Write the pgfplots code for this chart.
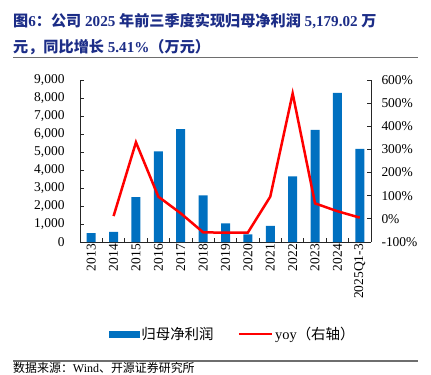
\documentclass[border=0pt]{standalone}
\usepackage{fontspec}
\setmainfont{Liberation Serif}
\newfontfamily\cjk{Noto Sans CJK SC}
\usepackage{pgfplots}
\pgfplotsset{compat=1.18}
\definecolor{barblue}{HTML}{0070C0}
\definecolor{titleblue}{RGB}{28,45,135}
\definecolor{rulegray}{RGB}{110,110,110}
\begin{document}
\begin{tikzpicture}[x=1bp,y=1bp]
\useasboundingbox (0,0) rectangle (431,-375);
\node[anchor=base west, inner sep=0, text=titleblue, font=\bfseries\fontsize{15.2}{16}\selectfont] at (13,-26)
 {{\cjk 图}6{\cjk ：公司} 2025 {\cjk 年前三季度实现归母净利润} 5,179.02 {\cjk 万}};
\node[anchor=base west, inner sep=0, text=titleblue, font=\bfseries\fontsize{15.2}{16}\selectfont] at (13,-52)
 {{\cjk 元，同比增长} 5.41\%{\cjk （万元）}};
\draw[rulegray, line width=1.2bp] (13,-57.5) -- (418,-57.5);
\draw[rulegray, line width=1.2bp] (13,-361) -- (418,-361);
\node[anchor=base west, inner sep=0, font=\fontsize{12}{13}\selectfont] at (13,-372)
 {{\cjk 数据来源：}Wind{\cjk 、开源证券研究所}};

\begin{axis}[
  at={(80bp,-242bp)}, anchor=south west,
  scale only axis, width=291bp, height=162bp,
  xmin=-0.5, xmax=12.5, ymin=0, ymax=9000,
  axis x line*=bottom, axis y line*=left,
  axis line style={black!85, line width=0.8bp},
  xtick={0.5,1.5,...,11.5}, xticklabels={},
  extra x ticks={0,1,...,12},
  extra x tick labels={2013,2014,2015,2016,2017,2018,2019,2020,2021,2022,2023,2024,2025Q1-3},
  extra x tick style={tick style={draw=none}},
  xticklabel style={rotate=90, anchor=east, font=\fontsize{13.5}{14}\selectfont, inner sep=2bp},
  ytick={0,1000,...,9000},
  yticklabel style={font=\fontsize{13.5}{14}\selectfont, xshift=-12bp},
  /pgf/number format/assume math mode=true,
  /pgf/number format/1000 sep={,},
  tick align=inside, major tick length=4bp,
  tick style={black!85, line width=0.8bp},
  clip=false,
]
\addplot[ybar, bar width=9bp, fill=barblue, draw=none] coordinates {
(0,500) (1,560) (2,2490) (3,5030) (4,6265) (5,2590) (6,1040) (7,430) (8,890) (9,3650) (10,6225) (11,8290) (12,5179.02)};
\end{axis}

\begin{axis}[
  at={(80bp,-242bp)}, anchor=south west,
  scale only axis, width=291bp, height=162bp,
  xmin=-0.5, xmax=12.5, ymin=-100, ymax=600,
  axis x line=none, axis y line*=right,
  axis line style={black!85, line width=0.8bp},
  ytick={-100,0,...,600},
  yticklabel={\pgfmathprintnumber{\tick}\%},
  yticklabel style={font=\fontsize{13.5}{14}\selectfont, xshift=7bp},
  /pgf/number format/assume math mode=true,
  tick align=inside, major tick length=4bp,
  tick style={black!85, line width=0.8bp},
  clip=false,
  legend style={at={(0.525,-0.568)}, anchor=center, draw=none, fill=none,
    legend columns=2, font=\fontsize{14.5}{15}\selectfont,
    /tikz/every even column/.append style={column sep=22bp}},
  legend cell align=left,
]
\addlegendimage{legend image code/.code={\fill[barblue] (0bp,-3bp) rectangle (30bp,3bp);}}
\addlegendentry{{\cjk 归母净利润}}
\addplot[red, line width=2.5bp, mark=none, legend image code/.code={\draw[red, line width=2.5bp] (0bp,0bp) -- (33bp,0bp);}] coordinates {
(1,12) (2,331) (3,96) (4,24) (5,-58) (6,-60) (7,-59) (8,96) (9,542) (10,67) (11,33) (12,5.41)};
\addlegendentry{yoy{\cjk （右轴）}}
\end{axis}
\end{tikzpicture}
\end{document}
